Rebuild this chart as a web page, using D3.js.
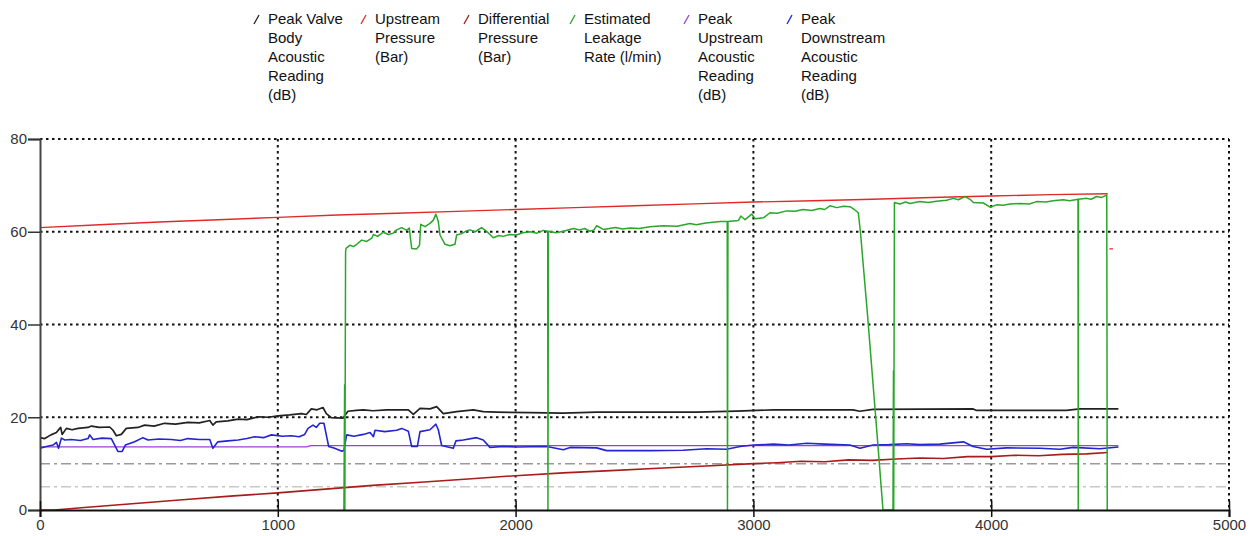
<!DOCTYPE html>
<html><head><meta charset="utf-8">
<script src="https://cdn.jsdelivr.net/npm/d3@7"></script>
<style>html,body{margin:0;padding:0;background:#fff;}svg{display:block;font-family:"Liberation Sans",Arial,sans-serif;}</style>
</head><body><svg id="c" width="1258" height="536"></svg>
<script>
// ---- data ----
const legendLabels = [
  ["Peak Valve","Body","Acoustic","Reading","(dB)"],
  ["Upstream","Pressure","(Bar)"],
  ["Differential","Pressure","(Bar)"],
  ["Estimated","Leakage","Rate (l/min)"],
  ["Peak","Upstream","Acoustic","Reading","(dB)"],
  ["Peak","Downstream","Acoustic","Reading","(dB)"]
];
const xTicks = [0,1000,2000,3000,4000,5000];
const yTicks = [0,20,40,60,80];
const refLevels = [10,5];

const valveBody = [[0,15.6],[20,15.4],[46,16.2],[69,16.7],[83,17.6],[87,17.8],[93,16.3],[111,17.6],[135,17.3],[160,17.6],[202,17.8],[216,18.1],[250,17.8],[293,17.9],[307,17.2],[321,16.0],[342,16.3],[363,17.6],[412,17.8],[440,18.3],[480,18.1],[524,18.7],[570,18.5],[622,18.9],[670,18.8],[714,19.3],[727,18.3],[741,19.0],[790,19.2],[833,19.6],[870,19.5],[917,20.1],[960,20.0],[1001,20.3],[1050,20.5],[1099,20.8],[1120,20.6],[1141,21.8],[1165,21.6],[1190,22.1],[1204,20.8],[1225,19.9],[1274,19.8],[1295,21.3],[1330,21.5],[1360,21.6],[1400,21.4],[1458,21.6],[1549,21.6],[1570,20.6],[1598,21.9],[1640,21.8],[1668,22.3],[1696,20.8],[1752,21.2],[1822,21.6],[1864,21.2],[1920,21.1],[2061,21.0],[2201,20.9],[2341,21.1],[2551,21.1],[2760,21.1],[2929,21.3],[3084,21.6],[3419,21.6],[3447,21.3],[3503,21.7],[3924,21.8],[3936,21.5],[4317,21.5],[4373,21.8],[4535,21.8]];

const upstreamPressure = [[0,60.9],[250,61.5],[500,62.1],[750,62.6],[1000,63.1],[1250,63.6],[1500,64.0],[1750,64.4],[2000,64.8],[2250,65.2],[2500,65.6],[2750,66.0],[3000,66.4],[3250,66.7],[3500,67.0],[3750,67.4],[4000,67.7],[4250,68.0],[4490,68.2],[4494,null],[4497,56.3],[4512,56.3]];

const diffPressure = [[0,0],[60,0],[200,0.6],[400,1.4],[600,2.2],[800,3.0],[1000,3.7],[1200,4.5],[1400,5.3],[1600,6.0],[1800,6.7],[2000,7.4],[2200,8.0],[2400,8.5],[2600,9.0],[2800,9.5],[3000,10.0],[3100,10.2],[3200,10.5],[3300,10.4],[3400,10.8],[3500,10.7],[3600,11.0],[3700,11.2],[3800,11.1],[3900,11.5],[4000,11.5],[4100,11.8],[4200,11.7],[4300,12.0],[4400,12.1],[4490,12.4]];

const leakage = [[1278,0],[1281,27],[1282,0],[1285,55.6],[1287,56.4],[1304,57.1],[1318,56.8],[1332,57.3],[1353,58.2],[1374,57.9],[1395,58.6],[1402,59.4],[1420,59.0],[1444,59.9],[1465,59.4],[1486,59.7],[1500,60.4],[1521,60.9],[1542,60.3],[1553,60.8],[1558,58.5],[1563,56.4],[1584,56.3],[1596,57.1],[1601,61.6],[1619,61.1],[1640,61.8],[1654,62.5],[1665,63.8],[1675,62.2],[1682,59.3],[1703,57.3],[1724,57.0],[1745,57.3],[1752,59.3],[1773,59.6],[1790,60.1],[1808,60.4],[1830,60.0],[1857,60.9],[1878,60.1],[1906,58.7],[1930,59.2],[1948,59.0],[1975,59.4],[2004,59.3],[2030,59.8],[2061,60.0],[2090,59.7],[2117,60.3],[2135,60.1],[2136,0],[2137,30],[2138,60.1],[2170,59.8],[2201,60.1],[2243,60.7],[2270,60.4],[2290,60.7],[2313,60.1],[2330,60.4],[2341,61.3],[2369,60.5],[2420,60.9],[2450,60.6],[2481,60.8],[2520,60.7],[2565,61.1],[2621,61.3],[2680,61.2],[2733,61.8],[2760,61.5],[2800,61.9],[2860,62.2],[2890,62.2],[2891,0],[2892,31],[2893,62.2],[2937,62.4],[2947,63.4],[2965,62.6],[2993,63.8],[3007,62.8],[3042,63.0],[3070,64.1],[3100,64.0],[3140,64.5],[3175,64.4],[3210,64.8],[3245,64.6],[3280,65.0],[3300,64.8],[3322,65.6],[3350,65.2],[3380,65.5],[3406,65.4],[3427,64.7],[3441,64.1],[3450,60],[3480,42],[3515,19.6],[3545,0],[3587,0],[3589,30],[3590,0],[3593,66.3],[3616,66.0],[3640,66.4],[3658,66.1],[3700,66.5],[3735,66.3],[3770,66.6],[3812,66.8],[3841,67.2],[3862,66.9],[3890,67.6],[3911,67.0],[3925,66.3],[3967,66.2],[3995,65.3],[4023,65.8],[4050,65.7],[4079,66.0],[4121,66.1],[4160,66.0],[4191,66.5],[4230,66.4],[4261,66.7],[4303,66.9],[4330,66.7],[4365,67.0],[4366,0],[4367,67.0],[4402,67.2],[4420,67.0],[4443,67.6],[4465,67.4],[4486,67.9],[4488,0]];

const upstreamAcoustic = [[0,13.6],[1120,13.6],[1140,13.9],[4535,13.9]];

const downstreamAcoustic = [[0,13.3],[27,13.7],[55,14.0],[69,14.6],[78,13.3],[90,15.5],[104,15.1],[132,15.2],[170,15.0],[202,15.4],[209,16.2],[223,15.2],[260,15.5],[300,15.4],[314,14.0],[328,12.6],[345,12.6],[359,14.0],[398,14.7],[433,15.6],[454,15.1],[500,15.3],[552,15.2],[590,15.0],[622,15.4],[670,15.2],[714,15.2],[727,13.3],[748,14.7],[790,14.9],[833,15.1],[870,15.4],[903,15.8],[940,15.6],[973,16.2],[1020,15.9],[1057,16.0],[1090,15.8],[1113,16.3],[1127,17.6],[1148,18.3],[1162,17.8],[1176,18.7],[1194,18.7],[1204,16.2],[1214,13.7],[1239,13.3],[1267,12.7],[1278,12.8],[1288,15.8],[1290,16.2],[1320,15.9],[1360,16.3],[1388,16.7],[1402,15.8],[1409,17.2],[1450,16.9],[1500,17.2],[1521,17.6],[1549,17.0],[1563,13.7],[1587,13.7],[1598,16.9],[1640,17.3],[1665,18.5],[1675,17.3],[1689,13.9],[1738,13.3],[1749,14.9],[1780,15.1],[1836,15.6],[1864,15.1],[1892,13.5],[1948,13.7],[2004,13.6],[2131,13.7],[2201,13.0],[2229,13.5],[2341,13.4],[2383,12.8],[2565,12.8],[2705,12.9],[2803,13.2],[2887,13.1],[2944,13.7],[3000,14.0],[3084,14.2],[3150,14.0],[3224,14.4],[3300,14.2],[3406,14.0],[3448,13.3],[3503,14.0],[3570,14.1],[3644,14.3],[3700,14.1],[3784,14.2],[3883,14.7],[3924,13.7],[3981,13.1],[4065,13.4],[4205,13.3],[4289,13.1],[4345,13.5],[4457,13.2],[4535,13.6]];

const seriesColors = ["#222222","#e02a2a","#a81c1c","#2aa62a","#9b40d8","#2424d0"];

// ---- chart ----
const svg = d3.select("#c");
const x = d3.scaleLinear().domain([0,5000]).range([40,1229]);
const y = d3.scaleLinear().domain([0,80]).range([510,139]);

// grid
const grid = svg.append("g");
grid.selectAll("line.h").data(yTicks.filter(v=>v>0)).join("line")
  .attr("x1",x(0)).attr("x2",x(5000)).attr("y1",d=>y(d)).attr("y2",d=>y(d))
  .attr("stroke","#111").attr("stroke-width",2).attr("stroke-dasharray","2.5,3.5");
grid.selectAll("line.v").data(xTicks.filter(v=>v>0)).join("line")
  .attr("y1",y(80)).attr("y2",y(0)).attr("x1",d=>x(d)).attr("x2",d=>x(d))
  .attr("stroke","#111").attr("stroke-width",2).attr("stroke-dasharray","2.5,3.5");

// reference lines
svg.selectAll("line.ref").data(refLevels).join("line")
  .attr("x1",x(0)).attr("x2",x(5000)).attr("y1",d=>y(d)).attr("y2",d=>y(d))
  .attr("stroke",(d,i)=>i===0?"#9a9a9a":"#c8c8c8").attr("stroke-width",1.5)
  .attr("stroke-dasharray","10,4,3,4");

const line = d3.line().defined(d=>d[1]!==null).x(d=>x(d[0])).y(d=>y(d[1]));
function draw(data,color,w){
  svg.append("path").datum(data).attr("d",line).attr("fill","none")
    .attr("stroke",color).attr("stroke-width",w).attr("stroke-linejoin","round");
}
draw(upstreamPressure,seriesColors[1],1.4);
draw(diffPressure,seriesColors[2],1.6);
draw(upstreamAcoustic,seriesColors[4],1.3);
draw(downstreamAcoustic,seriesColors[5],1.6);
draw(valveBody,seriesColors[0],1.7);
draw(leakage,seriesColors[3],1.5);

// axes
const yAxis = svg.append("g").attr("transform",`translate(${x(0)},0)`)
  .call(d3.axisLeft(y).tickValues(yTicks).tickSize(12).tickPadding(1).tickFormat(d3.format("d")));
yAxis.select(".domain").attr("stroke","#444").attr("stroke-width",2);
yAxis.selectAll(".tick line").attr("stroke","#333").attr("stroke-width",1.5);
yAxis.selectAll(".tick text").attr("font-size",15).attr("fill","#333")
  .attr("font-family","Liberation Sans, Arial, sans-serif");

const xAxis = svg.append("g").attr("transform",`translate(0,${y(0)})`)
  .call(d3.axisBottom(x).tickValues(xTicks).tickSize(7).tickPadding(2).tickFormat(d3.format("d")));
xAxis.select(".domain").attr("stroke","#111").attr("stroke-width",2);
xAxis.selectAll(".tick line").attr("y1",-9).attr("stroke","#111").attr("stroke-width",1.5);
xAxis.selectAll(".tick text").attr("font-size",15).attr("fill","#333")
  .attr("font-family","Liberation Sans, Arial, sans-serif");

// legend
const legX = [257,364,467,573,687,790];
const leg = svg.append("g");
legendLabels.forEach((lines,i)=>{
  const g = leg.append("g").attr("transform",`translate(${legX[i]},0)`);
  g.append("line").attr("x1",-3).attr("y1",24).attr("x2",2).attr("y2",15)
    .attr("stroke",seriesColors[i]).attr("stroke-width",1.3);
  g.selectAll("text").data(lines).join("text")
    .attr("x",11).attr("y",(d,j)=>24+j*19).text(d=>d)
    .attr("font-size",15).attr("fill","#111");
});
</script></body></html>
